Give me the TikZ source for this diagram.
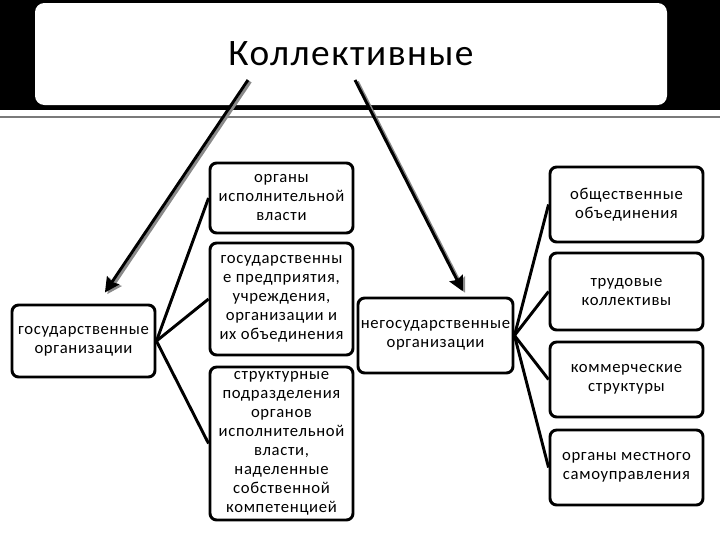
\documentclass[tikz,border=0pt]{standalone}
\usepackage{fontspec}
\setmainfont{Carlito}
\newfontfamily\boxfont[LetterSpace=4]{Carlito}
\usetikzlibrary{positioning,arrows.meta}
\definecolor{ink}{HTML}{000000}
\definecolor{shade}{HTML}{8A8A8A}
\definecolor{rule}{HTML}{7A7A7A}

\begin{document}
\begin{tikzpicture}[
  x=0.75pt, y=-0.75pt,
  font=\boxfont\fontsize{12.5}{14.25}\selectfont,
  box/.style   = {draw=ink, line width=2.2pt, rounded corners=5pt, align=center,
                  inner sep=0pt, fill=white},
  midbox/.style  = {box, minimum width=107.25pt},
  sidebox/.style = {box, minimum width=114.75pt, minimum height=56.25pt},
  link/.style  = {draw=ink, line width=2.2pt},
  arr/.style   = {-{Stealth[length=11pt,width=11pt,inset=1.5pt]}, draw=ink, line width=2.2pt,
                  preaction={draw=shade, line width=2.2pt, transform canvas={shift={(1.8pt,-1.2pt)}}}},
]
\useasboundingbox (0,0) rectangle (720,540);

% ---------- header band ----------
\fill[ink] (0,0) rectangle (720,110);
\draw[rule, line width=0.8pt] (0,117) -- (720,117);
\node[fill=white, rounded corners=7pt, minimum width=474pt, minimum height=76.5pt,
      font=\boxfont\fontsize{28}{30}\selectfont] (title) at (351,54) {Коллективные};

% ---------- state branch ----------
\node[box, minimum width=107.25pt, minimum height=54pt] (gos) at (83.5,341)
  {государственные\\организации};
\node[midbox, minimum height=52.5pt] (exec) at (281.5,198)
  {органы\\исполнительной\\власти};
\node[midbox, minimum height=84pt] (ent) at (281.5,299)
  {государственны\\е предприятия,\\учреждения,\\организации и\\их объединения};
\node[midbox, minimum height=114.75pt] (subdiv) at (281.5,443.5)
  {структурные\\подразделения\\органов\\исполнительной\\власти,\\наделенные\\собственной\\компетенцией};

% ---------- non-state branch ----------
\node[box, minimum width=116.25pt, minimum height=56.25pt] (neg) at (435.5,335.5)
  {негосударственные\\организации};
\node[sidebox] (pub) at (626.5,204.5) {общественные\\объединения};
\node[sidebox, minimum height=57.75pt] (lab) at (626.5,291.5) {трудовые\\коллективы};
\node[sidebox] (com) at (626.5,379.5) {коммерческие\\структуры};
\node[sidebox] (loc) at (626.5,467.5) {органы местного\\самоуправления};

% ---------- arrows ----------
\coordinate (lsrc) at (248,80);
\coordinate (rsrc) at (355,80);
\draw[arr, shorten >=10pt] (lsrc) -- ([shift={(14,0)}]gos.north);
\draw[arr, shorten >=4.5pt] (rsrc) -- ([shift={(30,0)}]neg.north);

% ---------- links ----------
\draw[link] (gos.east) -- (exec.west);
\draw[link] (gos.east) -- (ent.west);
\draw[link] (gos.east) -- (subdiv.west);
\draw[link] (neg.east) -- (pub.west);
\draw[link] (neg.east) -- (lab.west);
\draw[link] (neg.east) -- (com.west);
\draw[link] (neg.east) -- (loc.west);

\end{tikzpicture}
\end{document}
